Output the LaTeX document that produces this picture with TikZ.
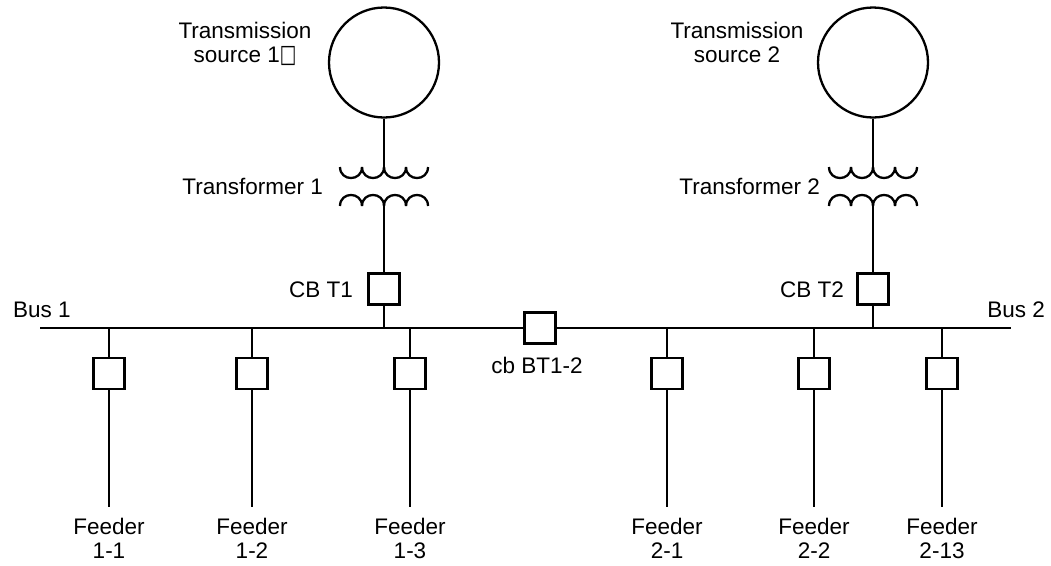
\documentclass[tikz,border=0pt]{standalone}
\usepackage{fontspec}
\setmainfont{Liberation Sans}
\newfontfamily\boxfont{DejaVu Sans}

\begin{document}
\begin{tikzpicture}[x = 1pt, y = -1pt, line width = 2.3pt]
\tikzstyle{Breaker}=[shape = rectangle,
							minimum size = 31pt,
							inner sep = 0pt,
							draw]
\tikzstyle{Source}=[shape = circle,
							minimum size = 110pt,
							inner sep = 0pt,
							draw]
\tikzstyle{Label}=[font = \fontsize{22.5}{24}\selectfont, inner sep = 0pt]
\useasboundingbox (0,0) rectangle (1051,565);
\node[Source] (s1) at (384,62.5) {};
\node[Source] (s2) at (873,62.5) {};
\node[Label, align = center, anchor = north] (ls1) at (245,21.5) {Transmission\\source 1{\boxfont\fontsize{25}{24}\selectfont\scalebox{0.7}[1.0]{□}}};
\node[Label, align = center, anchor = north] (ls2) at (737,21.5) {Transmission\\source 2};
\foreach \x/\n in {384/1, 873/2}{
	\foreach \k in {0,1,2,3}{
		\draw (\x-44+22*\k,167) .. controls (\x-44+22*\k,181.7) and (\x-22+22*\k,181.7) .. (\x-22+22*\k,167);
		\draw (\x-44+22*\k,206) .. controls (\x-44+22*\k,191.3) and (\x-22+22*\k,191.3) .. (\x-22+22*\k,206);
	}
	\coordinate (ta\n) at (\x,167);
	\coordinate (tb\n) at (\x,206);
	\coordinate (bt\n) at (\x,328);
	\node[Breaker] (cbt\n) at (\x,289) {};
	\draw (s\n) -- (ta\n);
	\draw (tb\n) -- (cbt\n) -- (bt\n);
}
\node[Label, anchor = base east] (lt1) at (324,194) {Transformer 1};
\node[Label, anchor = base east] (lt2) at (821,194) {Transformer 2};
\node[Label, anchor = base east] (lcbt1) at (354,297) {CB T1};
\node[Label, anchor = base east] (lcbt2) at (845,297) {CB T2};
\coordinate (b1) at (40,328);
\coordinate (b2) at (1011,328);
\node[Breaker] (cbbt) at (540,328) {};
\draw (b1) -- (cbbt) -- (b2);
\node[Label, anchor = base west] (lb1) at (12,317) {Bus 1};
\node[Label, anchor = base east] (lb2) at (1046,317) {Bus 2};
\node[Label, anchor = base] (lcbbt) at (537,373) {cb BT1-2};
\foreach \x/\n/\t in {109/11/1-1, 252/12/1-2, 410/13/1-3, 667/21/2-1, 814/22/2-2, 942/213/2-13}{
	\coordinate (j\n) at (\x,328);
	\node[Breaker] (fb\n) at (\x,373.5) {};
	\node[Label, align = center, anchor = north, outer ysep = 11pt] (f\n) at (\x,507) {Feeder\\\t};
	\draw (j\n) -- (fb\n) -- (f\n);
}
\end{tikzpicture}
\end{document}
